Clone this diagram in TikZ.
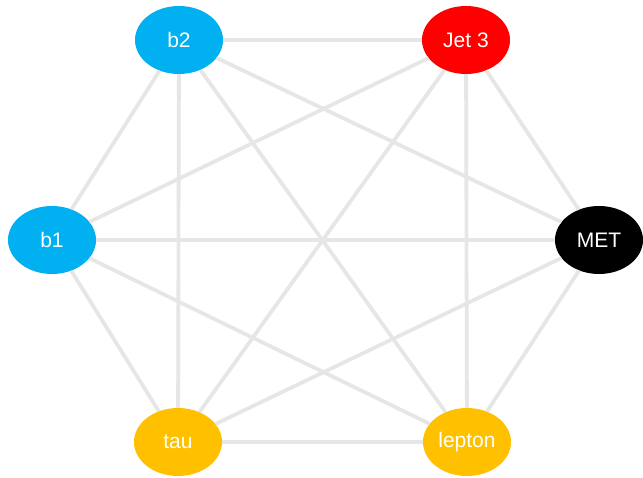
\documentclass[tikz,border=0pt]{standalone}
\usepackage{fontspec}
\setmainfont{Liberation Sans}
\usetikzlibrary{shapes.geometric}
\definecolor{bjet}{HTML}{00B0F0}
\definecolor{jetred}{HTML}{FF0000}
\definecolor{lep}{HTML}{FFC000}
\definecolor{link}{HTML}{E6E6E6}
\tikzset{
  particle/.style={ellipse, minimum width=88pt, minimum height=68pt, inner sep=0pt,
    text=white, font=\fontsize{21}{25}\selectfont},
  conn/.style={draw=link, line width=3.8pt}
}
\begin{document}
\begin{tikzpicture}[x=1pt,y=-1pt]
\useasboundingbox (0,0) rectangle (643,478);
\node[particle, fill=bjet]   (b2)  at (179,40)  {b2};
\node[particle, fill=jetred] (j3)  at (466,40)  {Jet 3};
\node[particle, fill=bjet]   (b1)  at (52,240)  {b1};
\node[particle, fill=black]  (met) at (599,240) {MET};
\node[particle, fill=lep]    (tau) at (178,442) {tau};
\node[particle, fill=lep]    (lep) at (467,442) {lepton};
\foreach \a/\b in {b2/j3, b2/b1, b2/tau, b2/met, b2/lep,
                   j3/b1, j3/tau, j3/lep, j3/met,
                   b1/met, b1/tau, b1/lep,
                   met/tau, met/lep, tau/lep}
  \draw[conn] (\a) -- (\b);
\end{tikzpicture}
\end{document}
